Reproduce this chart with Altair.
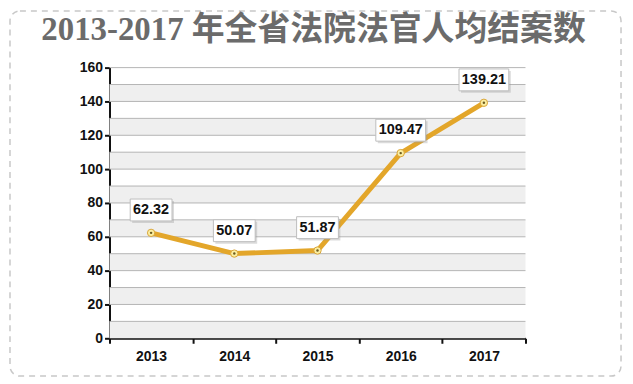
import altair as alt
import pandas as pd

years = ["2013", "2014", "2015", "2016", "2017"]
values = [62.32, 50.07, 51.87, 109.47, 139.21]
labels = ["62.32", "50.07", "51.87", "109.47", "139.21"]
grid_levels = [10, 20, 30, 40, 50, 60, 70, 80, 90, 100, 110, 120, 130, 140, 150, 160]
band_starts = [0, 20, 40, 60, 80, 100, 120, 140]
y_ticks = [0, 20, 40, 60, 80, 100, 120, 140, 160]
title_text = ["2013-2017 年全省法院法官人均结案数"]

FONT = "Liberation Sans"

df = pd.DataFrame({"year": years, "value": values, "label": labels})
df["wide"] = df["label"].str.len() > 5
bands = pd.DataFrame({"y0": band_starts, "y1": [b + 10 for b in band_starts]})
grid = pd.DataFrame({"g": grid_levels})

xaxis = alt.Axis(labelAngle=0, labelFontSize=14, labelFontWeight="bold",
                 labelColor="#111", labelFont=FONT,
                 domainColor="#111", domainWidth=2, tickColor="#111",
                 tickWidth=2, tickSize=5, tickBand="extent", labelPadding=6,
                 grid=False)
xscale = alt.Scale(domain=years, paddingInner=0, paddingOuter=0)
xenc = alt.X("year:N", scale=xscale, title=None, axis=xaxis)
yscale = alt.Scale(domain=[0, 160], nice=False)
yaxis = alt.Axis(values=y_ticks, labelFontSize=14, labelFontWeight="bold",
                 labelColor="#111", labelFont=FONT,
                 domainColor="#111", domainWidth=2, tickColor="#111",
                 tickWidth=2, tickSize=5, labelPadding=2, grid=False,
                 labelOverlap=False)
yenc = alt.Y("value:Q", scale=yscale, title=None, axis=yaxis)

frame = alt.Chart(pd.DataFrame({"a": [0]})).mark_rect(
    fill=None, stroke="#c8c8c8", strokeWidth=1.5, strokeDash=[6, 5], cornerRadius=10
).encode(x=alt.value(-100), x2=alt.value(514), y=alt.value(-57), y2=alt.value(310))

title_layer = alt.Chart(pd.DataFrame({"t": title_text})).mark_text(
    fontSize=33, fontWeight="bold", color="#6b6b6b",
    font="Liberation Serif, Noto Sans CJK SC", baseline="middle", align="center"
).encode(x=alt.value(205), y=alt.value(-38), text="t:N")

band_layer = alt.Chart(bands).mark_rect(color="#efefef").encode(
    y=alt.Y("y0:Q", scale=yscale, axis=yaxis, title=None), y2="y1:Q")

grid_layer = alt.Chart(grid).mark_rule(color="#b4b4b4", strokeWidth=1).encode(
    y=alt.Y("g:Q", scale=yscale, axis=yaxis, title=None))

base = alt.Chart(df)
line = base.mark_line(color="#E3A62A", strokeWidth=5).encode(x=xenc, y=yenc)
pts = base.mark_point(filled=True, fill="#fbeea0", stroke="#d9a53a", strokeWidth=1,
                      size=55, opacity=1).encode(x=xenc, y=yenc)
pts_c = base.mark_point(filled=True, fill="#6b5a20", size=6, opacity=1).encode(
    x=xenc, y=yenc)

def box_layers(sub, w):
    shadow = alt.Chart(sub).mark_rect(width=w, height=22, color="#999", opacity=0.35,
                                      xOffset=2, yOffset=-21).encode(x=xenc, y=yenc)
    box = alt.Chart(sub).mark_rect(width=w, height=22, fill="white", stroke="#bdbdbd",
                                   strokeWidth=1, yOffset=-23).encode(x=xenc, y=yenc)
    return shadow + box

narrow = df[~df["wide"]]
wide = df[df["wide"]]
boxes = box_layers(narrow, 42) + box_layers(wide, 50)
texts = base.mark_text(fontSize=14.5, fontWeight="bold", color="#111",
                       font=FONT, dy=-23, baseline="middle").encode(
    x=xenc, y=yenc, text="label:N")

chart = alt.layer(frame, title_layer, band_layer, grid_layer, line, pts, pts_c,
                  boxes, texts).properties(
    width=418, height=272,
    autosize=alt.AutoSizeParams(type="none"),
    padding={"left": 102, "top": 59, "right": 100, "bottom": 40},
).configure_view(stroke=None).configure_axisY(labelOverlap=False)

chart.save("out.html", embed_options={"renderer": "svg", "actions": False})
